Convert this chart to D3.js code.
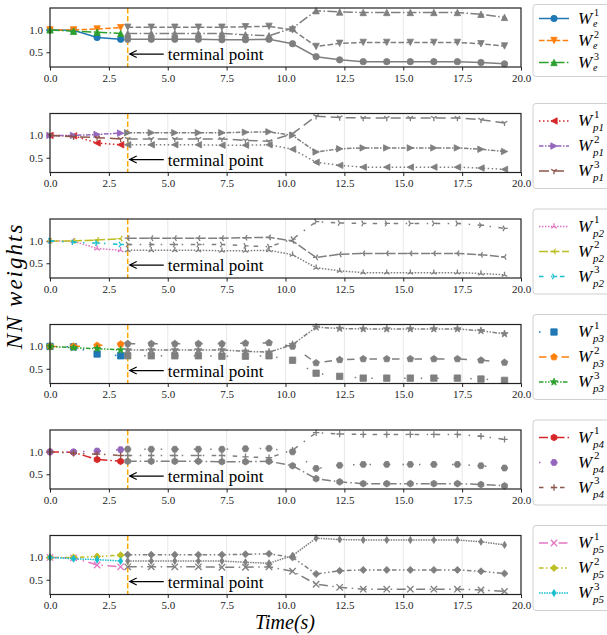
<!DOCTYPE html>
<html lang="en">
<head>
<meta charset="UTF-8" />
<title>NN weights over time</title>
<script src="https://d3js.org/d3.v7.min.js"></script>
<style>
  body { margin: 0; background: #fff; }
  svg { display: block; font-family: "Liberation Serif", "DejaVu Serif", serif; }
  .tick text { font-size: 11px; fill: #222; font-family: "Liberation Serif", serif; }
  .tick line { stroke: #222; }
  .domain { display: none; }
</style>
</head>
<body>
<svg id="chart" width="607" height="635"></svg>
<script>
/* ---------------- DATA ---------------- */

const tColored = [0, 1, 2, 3];
const tGray = [3.3, 4.3, 5.3, 6.3, 7.3, 8.3, 9.3, 10.3, 11.3, 12.3, 13.3, 14.3, 15.3, 16.3, 17.3, 18.3, 19.3];

// before the terminal point (coloured)
const lowColored  = [1.0, 0.99, 0.83, 0.79];
const midColored  = [1.0, 1.0, 1.02, 1.05];
const highColored = [1.0, 0.97, 0.95, 0.92];

// after the terminal point (grey)
const lowGray  = [0.79, 0.79, 0.79, 0.79, 0.78, 0.78, 0.79, 0.69, 0.40, 0.33, 0.29, 0.29, 0.29, 0.29, 0.29, 0.27, 0.24];
const midGray  = [1.06, 1.06, 1.06, 1.06, 1.06, 1.07, 1.08, 1.00, 0.63, 0.70, 0.72, 0.72, 0.72, 0.72, 0.72, 0.69, 0.64];
const highGray = [0.92, 0.92, 0.92, 0.92, 0.92, 0.89, 0.87, 1.04, 1.43, 1.40, 1.39, 1.39, 1.39, 1.39, 1.39, 1.35, 1.28];

const panelLabels = ["e", "p1", "p2", "p3", "p4", "p5"];
const seriesIndex = ["1", "2", "3"];

const xTicks = [0, 2.5, 5, 7.5, 10, 12.5, 15, 17.5, 20];
const yTicks = [0.5, 1.0];
const terminalTime = 3.3;
const arrowValue = 0.46;
const arrowTextTime = 5.0;

/* ---------------- STYLE ---------------- */

const palette = ["#1f77b4", "#ff7f0e", "#2ca02c", "#d62728", "#9467bd",
                 "#8c564b", "#e377c2", "#bcbd22", "#17becf"];
const markers = ["o", "v", "^", "<", ">", "1", "2", "3", "4",
                 "s", "p", "*", "h", "H", "+", "x", "D", "d"];
const dashes = [null, "5.5,2.4", "9.6,2.4,1.5,2.4",
                "1.5,2.5", "4.5,1.5,1.5,1.5", "10,5",
                "1.5,1.5", "9,2.5", "4.5,7.5,1.5,7.5",
                "1.5,15", "7.5,15", "4.5,1.5,1.5,1.5,1.5,1.5",
                "9,3,1.5,3", "1.5,15", "4.5,7.5,1.5,7.5",
                "9,4.5,1.5,4.5", "4.5,2.5,1.5,2.5,1.5,2.5", "1.5,1"];
const grey = "#7f7f7f";

/* ---------------- LAYOUT ---------------- */

const svg = d3.select("#chart");
const left = 50, right = 521;
const panelH = 59, panelStep = 105.5, firstTop = 8;

const x = d3.scaleLinear().domain([0, 20]).range([left, right]);

const strokeOnly = new Set(["1", "2", "3", "4", "+", "x"]);

function markerPath(m, r) {
  const deg = Math.PI / 180;
  const poly = pts => "M" + pts.map(q => q[0].toFixed(2) + "," + q[1].toFixed(2)).join("L") + "Z";
  const ring = (n, rad, start) => d3.range(n).map(k => {
    const a = (start + k * 360 / n) * deg;
    return [rad * Math.cos(a), rad * Math.sin(a)];
  });
  const arms = angles => angles.map(a =>
    `M0,0L${(r * Math.cos(a * deg)).toFixed(2)},${(r * Math.sin(a * deg)).toFixed(2)}`).join("");
  switch (m) {
    case "o": return d3.symbol(d3.symbolCircle, Math.PI * r * r)();
    case "^": return poly([[0, -r], [-r, r], [r, r]]);
    case "v": return poly([[0, r], [-r, -r], [r, -r]]);
    case "<": return poly([[-r, 0], [r, -r], [r, r]]);
    case ">": return poly([[r, 0], [-r, -r], [-r, r]]);
    case "1": return arms([90, 210, 330]);
    case "2": return arms([270, 30, 150]);
    case "3": return arms([180, 60, 300]);
    case "4": return arms([0, 120, 240]);
    case "s": return poly([[-r, -r], [r, -r], [r, r], [-r, r]]);
    case "p": return poly(ring(5, r * 1.1, -90));
    case "*": {
      const pts = [];
      for (let k = 0; k < 10; k++) {
        const a = (-90 + k * 36) * deg, rad = k % 2 ? r * 0.5 : r * 1.2;
        pts.push([rad * Math.cos(a), rad * Math.sin(a)]);
      }
      return poly(pts);
    }
    case "h": return poly(ring(6, r * 1.05, -90));
    case "H": return poly(ring(6, r * 1.05, 0));
    case "+": return `M${-r},0L${r},0M0,${-r}L0,${r}`;
    case "x": return `M${-r},${-r}L${r},${r}M${-r},${r}L${r},${-r}`;
    case "D": return poly([[0, -r * 1.1], [r * 1.1, 0], [0, r * 1.1], [-r * 1.1, 0]]);
    case "d": return poly([[0, -r * 1.1], [r * 0.65, 0], [0, r * 1.1], [-r * 0.65, 0]]);
  }
}

function drawMarker(g, m, color, cx, cy) {
  const open = strokeOnly.has(m);
  g.append("path")
    .attr("transform", `translate(${cx},${cy})`)
    .attr("d", markerPath(m, 3.2))
    .attr("fill", open ? "none" : color)
    .attr("stroke", color)
    .attr("stroke-width", open ? 1.3 : 0.8);
}

const seriesData = [
  { colored: lowColored, gray: lowGray },
  { colored: midColored, gray: midGray },
  { colored: highColored, gray: highGray }
];

/* ---------------- PANELS ---------------- */

panelLabels.forEach((label, i) => {
  const top = firstTop + i * panelStep;
  const bottom = top + panelH;
  const y = d3.scaleLinear().domain([0.17, 1.49]).range([bottom, top]);
  const g = svg.append("g");

  // vertical grid
  g.append("g")
    .selectAll("line")
    .data(xTicks.slice(1, -1))
    .join("line")
    .attr("x1", d => x(d)).attr("x2", d => x(d))
    .attr("y1", top).attr("y2", bottom)
    .attr("stroke", "#e8e8e8").attr("stroke-width", 1);

  // axes
  g.append("g")
    .attr("transform", `translate(0,${bottom})`)
    .call(d3.axisBottom(x).tickValues(xTicks).tickFormat(d3.format(".1f")).tickSize(3.5).tickPadding(3.5));
  g.append("g")
    .attr("transform", `translate(${left},0)`)
    .call(d3.axisLeft(y).tickValues(yTicks).tickFormat(d3.format(".1f")).tickSize(3.5).tickPadding(3.5));

  // terminal line
  g.append("line")
    .attr("x1", x(terminalTime)).attr("x2", x(terminalTime))
    .attr("y1", top).attr("y2", bottom)
    .attr("stroke", "orange").attr("stroke-width", 1.5)
    .attr("stroke-dasharray", "5.5,2.4");

  // series
  seriesData.forEach((s, j) => {
    const k = 3 * i + j;
    const color = palette[k % 9];
    const marker = markers[k];
    const dash = dashes[k];
    const lineGen = d3.line().x(d => x(d[0])).y(d => y(d[1]));

    const grayPts = tGray.map((t, n) => [t, s.gray[n]]);
    const colPts = tColored.map((t, n) => [t, s.colored[n]]);

    g.append("path").datum(grayPts)
      .attr("d", lineGen).attr("fill", "none")
      .attr("stroke", grey).attr("stroke-width", 1.5)
      .attr("stroke-dasharray", dash);
    grayPts.forEach(p => drawMarker(g, marker, grey, x(p[0]), y(p[1])));

    g.append("path").datum(colPts)
      .attr("d", lineGen).attr("fill", "none")
      .attr("stroke", color).attr("stroke-width", 1.5)
      .attr("stroke-dasharray", dash);
    colPts.forEach(p => drawMarker(g, marker, color, x(p[0]), y(p[1])));
  });

  // frame
  g.append("rect")
    .attr("x", left).attr("y", top)
    .attr("width", right - left).attr("height", panelH)
    .attr("fill", "none").attr("stroke", "#222").attr("stroke-width", 1.2);

  // annotation
  const ay = y(arrowValue);
  const tipX = x(terminalTime) + 2;
  g.append("path")
    .attr("d", `M${x(arrowTextTime) - 4},${ay}L${tipX},${ay}M${tipX + 7},${ay - 3.5}L${tipX},${ay}L${tipX + 7},${ay + 3.5}`)
    .attr("fill", "none").attr("stroke", "#000").attr("stroke-width", 1.2);
  g.append("text")
    .attr("x", x(arrowTextTime)).attr("y", ay + 6)
    .attr("font-size", 17)
    .text("terminal point");

  // legend
  const isE = i === 0;
  const rowGap = isE ? 22 : 25;
  const boxH = isE ? 72 : 85;
  const cy = (top + bottom) / 2 + 3;
  const scriptSize = isE ? 10 : 11;
  const lg = svg.append("g");
  lg.append("rect")
    .attr("x", 533).attr("y", cy - boxH / 2)
    .attr("width", 90).attr("height", boxH)
    .attr("rx", 3).attr("fill", "#fff").attr("fill-opacity", 0.8)
    .attr("stroke", "#d0d0d0");
  seriesIndex.forEach((sup, j) => {
    const k = 3 * i + j;
    const color = palette[k % 9];
    const ry = cy + (j - 1) * rowGap;
    lg.append("line")
      .attr("x1", 539).attr("x2", 569).attr("y1", ry).attr("y2", ry)
      .attr("stroke", color).attr("stroke-width", 1.5)
      .attr("stroke-dasharray", dashes[k]);
    drawMarker(lg, markers[k], color, 554, ry);
    const base = ry + 5;
    lg.append("text").attr("x", 578).attr("y", base)
      .attr("font-size", 17).attr("font-style", "italic").text("W");
    lg.append("text").attr("x", 594).attr("y", base - (isE ? 8 : 8.5))
      .attr("font-size", scriptSize).text(sup);
    lg.append("text").attr("x", 593).attr("y", base + (isE ? 3.5 : 5))
      .attr("font-size", scriptSize).attr("font-style", "italic").text(label);
  });
});

/* ---------------- AXIS TITLES ---------------- */

svg.append("text")
  .attr("transform", "translate(22,286) rotate(-90)")
  .attr("text-anchor", "middle")
  .attr("font-size", 23).attr("font-style", "italic")
  .attr("letter-spacing", 2)
  .text("NN weights");

svg.append("text")
  .attr("x", 285).attr("y", 629)
  .attr("text-anchor", "middle")
  .attr("font-size", 20).attr("font-style", "italic")
  .text("Time(s)");
</script>
</body>
</html>
